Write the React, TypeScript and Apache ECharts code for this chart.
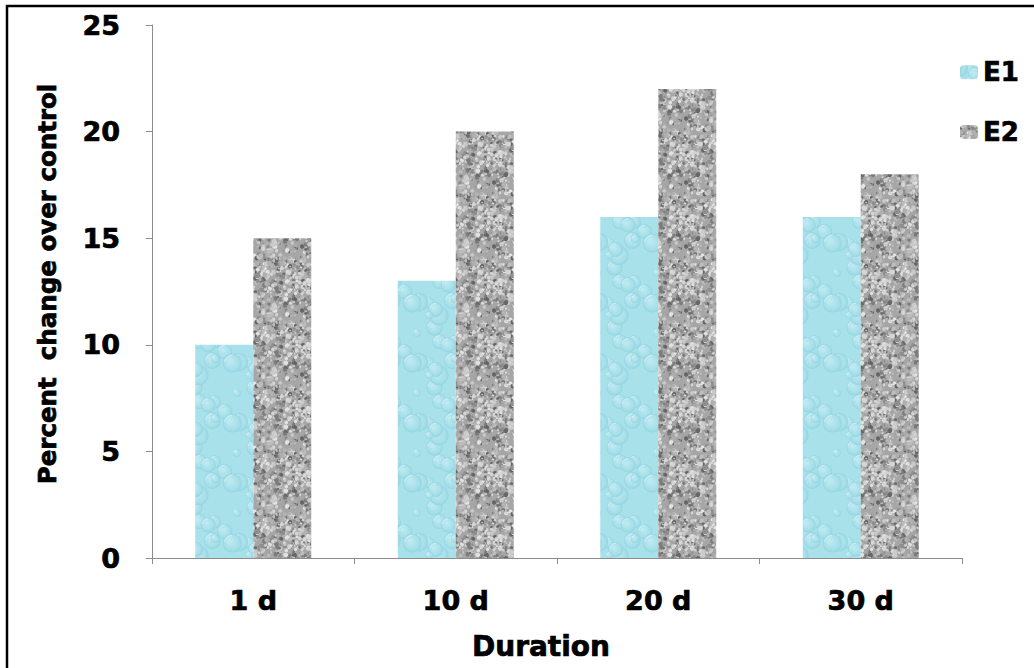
import React, { useEffect, useRef } from "react";
import * as echarts from "echarts";

const categories = ["1 d", "10 d", "20 d", "30 d"];
const seriesE1 = [10, 13, 16, 16];
const seriesE2 = [15, 20, 22, 18];
const seriesNames = ["E1", "E2"];
const yTicks = { min: 0, max: 25, interval: 5 };
const xTitle = "Duration";
const yTitle = "Percent  change over control";

const FONT = "'DejaVu Sans', Verdana, sans-serif";
const heavy = { textBorderColor: "#000", textBorderWidth: 0.7 };

function makeRng(seed: number) {
  let s = seed >>> 0;
  return () => {
    s = (s * 1664525 + 1013904223) >>> 0;
    return s / 4294967296;
  };
}

function grayTexture(): HTMLCanvasElement {
  const c = document.createElement("canvas");
  c.width = 64;
  c.height = 64;
  const g = c.getContext("2d")!;
  g.fillStyle = "#a6a6a6";
  g.fillRect(0, 0, 64, 64);
  const rnd = makeRng(7);
  const shades = ["#d6d6d6", "#cacaca", "#bbbbbb", "#8e8e8e", "#7c7c7c", "#666666", "#e2e2e2", "#b0b0b0"];
  for (let i = 0; i < 460; i++) {
    const x = rnd() * 64;
    const y = rnd() * 64;
    const r = 0.7 + rnd() * 1.9;
    const ry = r * (0.6 + rnd() * 0.6);
    const rot = rnd() * Math.PI;
    g.fillStyle = shades[Math.floor(rnd() * shades.length)];
    for (const dx of [-64, 0, 64]) {
      for (const dy of [-64, 0, 64]) {
        g.beginPath();
        g.ellipse(x + dx, y + dy, r, ry, rot, 0, Math.PI * 2);
        g.fill();
      }
    }
  }
  return c;
}

function cyanTexture(): HTMLCanvasElement {
  const c = document.createElement("canvas");
  c.width = 60;
  c.height = 60;
  const g = c.getContext("2d")!;
  g.fillStyle = "#a9e1eb";
  g.fillRect(0, 0, 60, 60);
  const rnd = makeRng(13);
  for (let i = 0; i < 16; i++) {
    const x = rnd() * 60;
    const y = rnd() * 60;
    const r = 3 + rnd() * 7;
    for (const dx of [-60, 0, 60]) {
      for (const dy of [-60, 0, 60]) {
        const cx = x + dx;
        const cy = y + dy;
        const grd = g.createRadialGradient(cx - r * 0.3, cy - r * 0.3, r * 0.1, cx, cy, r);
        grd.addColorStop(0, "#bfeaf1");
        grd.addColorStop(0.75, "#a6dfe9");
        grd.addColorStop(1, "#93d5e1");
        g.fillStyle = grd;
        g.beginPath();
        g.arc(cx, cy, r, 0, Math.PI * 2);
        g.fill();
        g.strokeStyle = "rgba(225,248,252,0.7)";
        g.lineWidth = 1;
        g.beginPath();
        g.arc(cx, cy, r * 0.8, Math.PI * 1.05, Math.PI * 1.5);
        g.stroke();
      }
    }
  }
  return c;
}

export default function App() {
  const ref = useRef<HTMLDivElement>(null);
  useEffect(() => {
    if (!ref.current) return;
    const chart = echarts.init(ref.current, undefined, { renderer: "svg" });
    const gTex = grayTexture();
    const cTex = cyanTexture();
    const e1Color: any = { image: cTex, repeat: "repeat", imageWidth: 60, imageHeight: 60 };
    const e2Color: any = { image: gTex, repeat: "repeat", imageWidth: 64, imageHeight: 64 };
    chart.setOption({
      animation: false,
      backgroundColor: "#ffffff",
      grid: { left: 152, top: 25, right: 72, bottom: 110, containLabel: false },
      legend: {
        orient: "vertical",
        left: 955,
        top: 54,
        itemWidth: 18,
        itemHeight: 14,
        itemGap: 33,
        data: seriesNames,
        textStyle: { fontFamily: FONT, fontWeight: "bold", fontSize: 26, color: "#000", lineHeight: 26, ...heavy },
      },
      xAxis: {
        type: "category",
        data: categories,
        axisLine: { lineStyle: { color: "#8c8c8c", width: 1 } },
        axisTick: { show: true, length: 6, lineStyle: { color: "#8c8c8c" } },
        axisLabel: { fontFamily: FONT, fontWeight: "bold", fontSize: 27, color: "#000", margin: 29, ...heavy },
      },
      yAxis: {
        type: "value",
        min: yTicks.min,
        max: yTicks.max,
        interval: yTicks.interval,
        splitLine: { show: false },
        axisLine: { show: true, lineStyle: { color: "#8c8c8c", width: 1 } },
        axisTick: { show: true, length: 6, lineStyle: { color: "#8c8c8c" } },
        axisLabel: { fontFamily: FONT, fontWeight: "bold", fontSize: 27, color: "#000", margin: 32, ...heavy },
      },
      series: [
        { name: seriesNames[0], type: "bar", data: seriesE1, barWidth: 58, barGap: "0%", itemStyle: { color: e1Color } },
        { name: seriesNames[1], type: "bar", data: seriesE2, barWidth: 58, barGap: "0%", itemStyle: { color: e2Color } },
      ],
      graphic: [
        {
          type: "rect",
          shape: { x: 7, y: 6, width: 1100, height: 700 },
          style: { fill: "none", stroke: "#000", lineWidth: 2.5 },
          silent: true,
        },
        {
          type: "text",
          x: 541,
          y: 646,
          style: {
            text: xTitle,
            fontFamily: FONT,
            fontWeight: "bold",
            fontSize: 28,
            fill: "#000",
            stroke: "#000",
            lineWidth: 0.7,
            align: "center",
            verticalAlign: "middle",
          },
        },
        {
          type: "text",
          x: 47,
          y: 284,
          rotation: Math.PI / 2,
          style: {
            text: yTitle,
            fontFamily: FONT,
            fontWeight: "bold",
            fontSize: 24.5,
            fill: "#000",
            stroke: "#000",
            lineWidth: 0.7,
            align: "center",
            verticalAlign: "middle",
          },
        },
      ],
    });
    return () => chart.dispose();
  }, []);
  return (
    <div
      ref={ref}
      style={{ position: "fixed", left: 0, top: 0, width: 1034, height: 668, background: "#fff" }}
    />
  );
}
